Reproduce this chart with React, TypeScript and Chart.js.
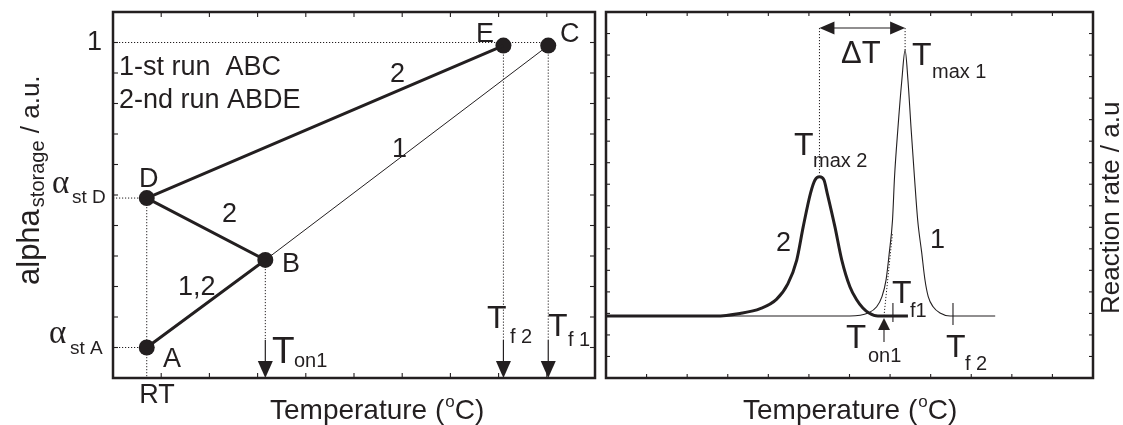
import React, { useEffect, useRef } from "react";
import { Chart, registerables } from "chart.js";

Chart.register(...registerables);

const FONT = '"Liberation Sans", Arial, Helvetica, sans-serif';
const SERIF = '"Liberation Serif", "Times New Roman", serif';
const INK = "#231f20";

// ---------- Left panel: alpha_storage vs temperature ----------
const stateNames = ["A", "B", "D", "E", "C"];
const stateTemp = [0.7, 3.16, 0.7, 8.1, 9.03];
const stateAlpha = [1, 3.87, 5.9, 10.9, 10.9];
const run2Path = ["A", "B", "D", "E"]; // thick, 2-nd run
const run1Path = ["B", "C"]; // thin, 1-st run continuation
const leftXRange = [0, 10];
const leftYRange = [0, 12];
const alphaFullLevel = 11;
const leftYTickLabel = "1";

// ---------- Right panel: reaction rate vs temperature ----------
const curve1Temp = [0, 6.01, 6.46, 6.67, 6.8, 6.9, 6.98, 7.06, 7.11, 7.19, 7.29, 7.37, 7.44, 7.52, 7.6, 7.68, 7.78, 7.86, 7.94, 8.06, 8.23, 8.48, 9.59];
const curve1Rate = [2.88, 2.88, 3.02, 3.31, 3.78, 4.55, 5.81, 7.34, 9.35, 11.52, 13.84, 15.23, 13.84, 11.52, 9.35, 7.34, 5.81, 4.55, 3.78, 3.31, 3.02, 2.88, 2.88];
const curve2Temp = [0, 2.7, 3.3, 3.8, 4.2, 4.48, 4.7, 4.86, 5.04, 5.15, 5.26, 5.37, 5.45, 5.64, 5.81, 6.01, 6.18, 6.33, 6.48, 6.7, 7.44];
const curve2Rate = [2.88, 2.88, 3.0, 3.22, 3.65, 4.37, 5.48, 7.03, 8.59, 9.2, 9.35, 9.2, 8.59, 7.03, 5.48, 4.24, 3.62, 3.25, 3.02, 2.88, 2.88];
const rightXRange = [0, 12];
const rightYRange = [0, 17];
const baselineRate = 2.88;
const onsetTemp = 6.85;
const tf1Temp = 7.07;
const tf2Temp = 8.55;

const RIGHT_OFFSET = 603;

function stateOf(n: string) {
  const i = stateNames.indexOf(n);
  return { x: stateTemp[i], y: stateAlpha[i] };
}

function line(ctx: CanvasRenderingContext2D, x1: number, y1: number, x2: number, y2: number) {
  ctx.beginPath();
  ctx.moveTo(x1, y1);
  ctx.lineTo(x2, y2);
  ctx.stroke();
}

function txt(ctx: CanvasRenderingContext2D, s: string, x: number, y: number, size: number, align: CanvasTextAlign = "left", family = FONT, base: CanvasTextBaseline = "alphabetic") {
  ctx.font = `${size}px ${family}`;
  ctx.textAlign = align;
  ctx.textBaseline = base;
  ctx.fillStyle = INK;
  ctx.fillText(s, x, y);
  return ctx.measureText(s).width;
}

function tri(ctx: CanvasRenderingContext2D, pts: number[][]) {
  ctx.beginPath();
  ctx.moveTo(pts[0][0], pts[0][1]);
  ctx.lineTo(pts[1][0], pts[1][1]);
  ctx.lineTo(pts[2][0], pts[2][1]);
  ctx.closePath();
  ctx.fill();
}

function drawFrameAndTicks(chart: any, xr: number[], yr: number[], len: number) {
  const { ctx, chartArea: a, scales } = chart;
  ctx.save();
  ctx.strokeStyle = INK;
  ctx.lineWidth = 1.1;
  for (let v = xr[0] + 1; v < xr[1]; v++) {
    const px = scales.x.getPixelForValue(v);
    line(ctx, px, a.bottom, px, a.bottom - len);
    line(ctx, px, a.top, px, a.top + len);
  }
  for (let v = yr[0] + 1; v < yr[1]; v++) {
    const py = scales.y.getPixelForValue(v);
    line(ctx, a.left, py, a.left + len, py);
    line(ctx, a.right, py, a.right - len, py);
  }
  ctx.lineWidth = 2.5;
  ctx.strokeRect(a.left, a.top, a.right - a.left, a.bottom - a.top);
  ctx.restore();
}

function tempTitle(ctx: CanvasRenderingContext2D, x: number, y: number) {
  let w = txt(ctx, "Temperature (", x, y, 28);
  const w2 = txt(ctx, "o", x + w + 1, y - 12, 17);
  txt(ctx, "C)", x + w + w2 + 1, y, 28);
}

const leftDecor = {
  id: "leftDecor",
  beforeDatasetsDraw(chart: any) {
    const { ctx, chartArea: a, scales } = chart;
    const X = (v: number) => scales.x.getPixelForValue(v);
    const Y = (v: number) => scales.y.getPixelForValue(v);
    const A = stateOf("A"), B = stateOf("B"), D = stateOf("D"), E = stateOf("E"), C = stateOf("C");
    ctx.save();
    ctx.strokeStyle = INK;
    ctx.fillStyle = INK;
    ctx.lineWidth = 1;
    ctx.setLineDash([1.2, 1.8]);
    line(ctx, a.left, Y(alphaFullLevel), X(C.x), Y(alphaFullLevel));
    line(ctx, a.left, Y(D.y), X(D.x), Y(D.y));
    line(ctx, X(D.x), Y(D.y), X(D.x), a.bottom);
    line(ctx, a.left, Y(A.y), X(A.x), Y(A.y));
    const stemTop = a.bottom - 38;
    [B, E, C].forEach((p) => line(ctx, X(p.x), Y(p.y), X(p.x), stemTop));
    ctx.setLineDash([]);
    [B, E, C].forEach((p) => {
      const px = X(p.x);
      ctx.lineWidth = 1.2;
      line(ctx, px, stemTop, px, a.bottom - 16);
      tri(ctx, [[px - 7.5, a.bottom - 17], [px + 7.5, a.bottom - 17], [px, a.bottom]]);
    });
    ctx.restore();
  },
  afterDraw(chart: any) {
    const { ctx, chartArea: a, scales } = chart;
    const Y = (v: number) => scales.y.getPixelForValue(v);
    drawFrameAndTicks(chart, leftXRange, leftYRange, 5);
    ctx.save();
    // y tick label
    txt(ctx, leftYTickLabel, a.left - 11, Y(alphaFullLevel), 27, "right", FONT, "middle");
    // alpha labels
    const D = stateOf("D"), A = stateOf("A");
    txt(ctx, "\u03b1", 52, Y(D.y) - 5, 33, "left", SERIF);
    txt(ctx, "st D", 72, Y(D.y) + 5, 19);
    txt(ctx, "\u03b1", 49, Y(A.y) - 5, 33, "left", SERIF);
    txt(ctx, "st A", 70, Y(A.y) + 6, 19);
    // point labels
    txt(ctx, "E", 476, 42, 27);
    txt(ctx, "C", 560, 42, 27);
    txt(ctx, "D", 139, 187, 27);
    txt(ctx, "B", 282, 272, 27);
    txt(ctx, "A", 163, 367, 27);
    txt(ctx, "2", 390, 82, 27);
    txt(ctx, "1", 392, 157, 27);
    txt(ctx, "2", 222, 222, 27);
    txt(ctx, "1,2", 178, 295, 27);
    // legend text
    txt(ctx, "1-st run  ABC", 119, 75, 27);
    txt(ctx, "2-nd run ABDE", 119, 108, 27);
    // temperature markers
    txt(ctx, "T", 272, 363, 37);
    txt(ctx, "on1", 294, 367, 20);
    txt(ctx, "T", 487, 328, 32);
    txt(ctx, "f 2", 510, 343, 20);
    txt(ctx, "T", 548, 336, 32);
    txt(ctx, "f 1", 568, 346, 20);
    // x labels
    txt(ctx, "RT", 157, 403, 27, "center");
    tempTitle(ctx, 270, 419);
    // y title
    ctx.save();
    ctx.translate(39, 285);
    ctx.rotate(-Math.PI / 2);
    let w = txt(ctx, "alpha", 0, 0, 31);
    const w2 = txt(ctx, "storage", w + 2, 5, 20);
    txt(ctx, " / a.u.", w + 2 + w2, 0, 26);
    ctx.restore();
    ctx.restore();
  },
};

const rightDecor = {
  id: "rightDecor",
  beforeDatasetsDraw(chart: any) {
    const { ctx, scales } = chart;
    const X = (v: number) => scales.x.getPixelForValue(v);
    const Y = (v: number) => scales.y.getPixelForValue(v);
    const i1 = curve1Rate.indexOf(Math.max(...curve1Rate));
    const i2 = curve2Rate.indexOf(Math.max(...curve2Rate));
    const p1x = X(curve1Temp[i1]), p1y = Y(curve1Rate[i1]);
    const p2x = X(curve2Temp[i2]), p2y = Y(curve2Rate[i2]);
    const ay = 28;
    const by = Y(baselineRate);
    ctx.save();
    ctx.strokeStyle = INK;
    ctx.fillStyle = INK;
    ctx.lineWidth = 1;
    ctx.setLineDash([1.2, 1.8]);
    line(ctx, p2x, ay, p2x, p2y - 3);
    line(ctx, p1x, ay, p1x, p1y);
    const ox = X(onsetTemp);
    line(ctx, ox, by, ox + 8.5, by - 83);
    ctx.setLineDash([]);
    // delta T double arrow
    ctx.lineWidth = 1.1;
    line(ctx, p2x + 14, ay, p1x - 14, ay);
    tri(ctx, [[p2x, ay], [p2x + 15, ay - 6.5], [p2x + 15, ay + 6.5]]);
    tri(ctx, [[p1x, ay], [p1x - 15, ay - 6.5], [p1x - 15, ay + 6.5]]);
    ctx.restore();
  },
  afterDatasetsDraw(chart: any) {
    const { ctx, scales } = chart;
    const X = (v: number) => scales.x.getPixelForValue(v);
    const Y = (v: number) => scales.y.getPixelForValue(v);
    const by = Y(baselineRate);
    ctx.save();
    ctx.strokeStyle = INK;
    ctx.fillStyle = INK;
    ctx.lineWidth = 1.1;
    const ox = X(onsetTemp);
    tri(ctx, [[ox, by + 2], [ox - 6, by + 14], [ox + 6, by + 14]]);
    line(ctx, ox, by + 13, ox, by + 26);
    const f1 = X(tf1Temp);
    line(ctx, f1, by - 13, f1, by + 6);
    const f2 = X(tf2Temp);
    line(ctx, f2, by - 13, f2, by + 9);
    ctx.restore();
  },
  afterDraw(chart: any) {
    const { ctx } = chart;
    const P = (x: number) => x - RIGHT_OFFSET;
    drawFrameAndTicks(chart, rightXRange, rightYRange, 4);
    ctx.save();
    txt(ctx, "\u0394T", P(841), 63, 31);
    txt(ctx, "T", P(912), 65, 32);
    txt(ctx, "max 1", P(932), 78, 20);
    txt(ctx, "T", P(794), 155, 32);
    txt(ctx, "max 2", P(813), 167, 20);
    txt(ctx, "2", P(776), 251, 27);
    txt(ctx, "1", P(930), 248, 27);
    txt(ctx, "T", P(892), 303, 32);
    txt(ctx, "f1", P(910), 317, 20);
    txt(ctx, "T", P(846), 348, 33);
    txt(ctx, "on1", P(868), 362, 20);
    txt(ctx, "T", P(946), 357, 32);
    txt(ctx, "f 2", P(965), 370, 20);
    tempTitle(ctx, P(743), 419);
    ctx.save();
    ctx.translate(P(1119), 314);
    ctx.rotate(-Math.PI / 2);
    txt(ctx, "Reaction rate / a.u", 0, 0, 26);
    ctx.restore();
    ctx.restore();
  },
};

function baseOptions(xr: number[], yr: number[], padding: any) {
  return {
    responsive: false,
    animation: false as const,
    events: [] as any[],
    layout: { padding },
    plugins: { legend: { display: false }, tooltip: { enabled: false } },
    scales: {
      x: { type: "linear" as const, min: xr[0], max: xr[1], display: false },
      y: { type: "linear" as const, min: yr[0], max: yr[1], display: false },
    },
  };
}

export default function App() {
  const leftRef = useRef<HTMLCanvasElement>(null);
  const rightRef = useRef<HTMLCanvasElement>(null);

  useEffect(() => {
    const left = new Chart(leftRef.current!, {
      type: "scatter",
      data: {
        datasets: [
          { data: run2Path.map(stateOf), showLine: true, borderColor: INK, borderWidth: 3, pointRadius: 0 },
          { data: run1Path.map(stateOf), showLine: true, borderColor: INK, borderWidth: 1, pointRadius: 0 },
          { data: stateNames.map(stateOf), showLine: false, pointRadius: 8, pointBackgroundColor: INK, pointBorderWidth: 0, borderColor: INK },
        ],
      },
      options: baseOptions(leftXRange, leftYRange, { left: 113, right: 4, top: 12, bottom: 47 }) as any,
      plugins: [leftDecor],
    });
    const right = new Chart(rightRef.current!, {
      type: "scatter",
      data: {
        datasets: [
          { data: curve1Temp.map((t, i) => ({ x: t, y: curve1Rate[i] })), showLine: true, borderColor: INK, borderWidth: 1.1, pointRadius: 0, cubicInterpolationMode: "monotone" },
          { data: curve2Temp.map((t, i) => ({ x: t, y: curve2Rate[i] })), showLine: true, borderColor: INK, borderWidth: 3, pointRadius: 0, cubicInterpolationMode: "monotone" },
        ],
      },
      options: baseOptions(rightXRange, rightYRange, { left: 3, right: 30, top: 12, bottom: 47 }) as any,
      plugins: [rightDecor],
    });
    return () => {
      left.destroy();
      right.destroy();
    };
  }, []);

  return (
    <div style={{ position: "absolute", left: 0, top: 0, width: 1123, height: 425, background: "#fff" }}>
      <canvas ref={leftRef} width={603} height={425} style={{ position: "absolute", left: 0, top: 0, width: 603, height: 425 }} />
      <canvas ref={rightRef} width={520} height={425} style={{ position: "absolute", left: RIGHT_OFFSET, top: 0, width: 520, height: 425 }} />
    </div>
  );
}
